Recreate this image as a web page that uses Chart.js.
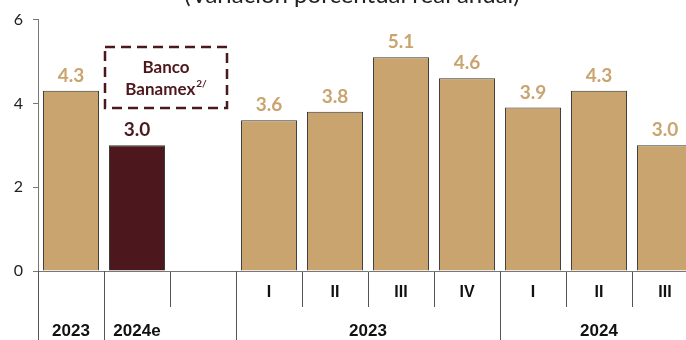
<!DOCTYPE html>
<html>
<head>
<meta charset="utf-8">
<script src="https://cdn.jsdelivr.net/npm/chart.js@4/dist/chart.umd.min.js"></script>
<style>
  html, body { margin: 0; padding: 0; background: #fff; overflow: hidden; }
  #wrap { position: relative; width: 700px; height: 340px; }
</style>
</head>
<body>
<div id="wrap"><canvas id="pib-chart"></canvas></div>
<script>
var categories = ['2023', '2024e', '', 'I', 'II', 'III', 'IV', 'I', 'II', 'III'];
var values = [4.3, 3.0, null, 3.6, 3.8, 5.1, 4.6, 3.9, 4.3, 3.0];
var yearGroups = [
  { label: '2023', from: 0, to: 0 },
  { label: '2024e', from: 1, to: 1 },
  { label: '2023', from: 3, to: 6 },
  { label: '2024', from: 7, to: 9 }
];
var yTicks = [0, 2, 4, 6];
var title = '(Variación porcentual real anual)';

var tan = '#c9a46f';
var maroon = '#4d181d';
var barColors = values.map(function (v, i) { return i === 1 ? maroon : tan; });
var labelColors = values.map(function (v, i) { return i === 1 ? maroon : tan; });

var extras = {
  id: 'extras',
  afterDatasetsDraw: function (chart) {
    var ctx = chart.ctx;
    var x = chart.scales.x;
    var area = chart.chartArea;
    var meta = chart.getDatasetMeta(0);
    var half = (x.getPixelForValue(1) - x.getPixelForValue(0)) / 2;

    ctx.save();
    // value labels
    ctx.font = 'bold 19px Lato, "Noto Sans", sans-serif';
    ctx.textAlign = 'center';
    ctx.textBaseline = 'alphabetic';
    meta.data.forEach(function (bar, i) {
      if (values[i] === null) return;
      ctx.fillStyle = labelColors[i];
      ctx.fillText(values[i].toFixed(1), bar.x, bar.y - 9);
    });

    // Banamex dashed box
    var bx = x.getPixelForValue(1) - 32;
    ctx.strokeStyle = maroon;
    ctx.lineWidth = 2.5;
    ctx.setLineDash([10, 6]);
    ctx.strokeRect(bx, 47, 122, 61);
    ctx.setLineDash([]);
    ctx.fillStyle = maroon;
    ctx.font = 'bold 17px Lato, "Noto Sans", sans-serif';
    ctx.textAlign = 'center';
    ctx.fillText('Banco', bx + 61, 73);
    var w = ctx.measureText('Banamex').width;
    ctx.font = 'bold 10px Lato, "Noto Sans", sans-serif';
    var ws = ctx.measureText('2/').width;
    var start = bx + 61 - (w + ws + 1) / 2;
    ctx.textAlign = 'left';
    ctx.fillText('2/', start + w + 1, 87);
    ctx.font = 'bold 17px Lato, "Noto Sans", sans-serif';
    ctx.fillText('Banamex', start, 95);

    // long group separators and year labels
    ctx.strokeStyle = '#555';
    ctx.lineWidth = 1;
    ctx.font = 'bold 17px "Liberation Sans", Arial, sans-serif';
    ctx.fillStyle = '#111';
    ctx.textAlign = 'center';
    ctx.textBaseline = 'middle';
    yearGroups.forEach(function (g) {
      var l = x.getPixelForValue(g.from) - half;
      var r = x.getPixelForValue(g.to) + half;
      ctx.beginPath();
      ctx.moveTo(Math.round(l) + 0.5, area.bottom);
      ctx.lineTo(Math.round(l) + 0.5, chart.height);
      ctx.stroke();
      ctx.fillText(g.label, (l + r) / 2, 331);
    });

    // title (cut by the top edge)
    ctx.font = '24px Lato, "Noto Sans", sans-serif';
    ctx.fillStyle = '#222';
    ctx.textBaseline = 'alphabetic';
    ctx.fillText(title, 352, 3);
    ctx.restore();
  }
};

var context = document.getElementById('pib-chart').getContext('2d');
var chart = new Chart(context, {
  type: 'bar',
  data: {
    labels: categories,
    datasets: [
      {
        data: values,
        backgroundColor: barColors,
        borderColor: '#333',
        borderWidth: 1,
        categoryPercentage: 0.85,
        barPercentage: 1.0
      }
    ]
  },
  options: {
    responsive: true,
    maintainAspectRatio: false,
    animation: false,
    layout: { padding: { top: 18, right: 2, left: 0, bottom: 0 } },
    plugins: {
      legend: { display: false },
      tooltip: { enabled: false }
    },
    scales: {
      x: {
        afterFit: function (scale) { scale.height = 69; },
        border: { display: true, color: '#777', width: 1 },
        grid: {
          display: true,
          offset: true,
          drawOnChartArea: false,
          drawTicks: true,
          tickLength: 36,
          color: '#555'
        },
        ticks: {
          padding: -24,
          maxRotation: 0,
          autoSkip: false,
          color: '#111',
          font: { family: '"Liberation Sans", Arial, sans-serif', size: 16, weight: 'bold' },
          callback: function (v, i) { return i < 3 ? '' : categories[i]; }
        }
      },
      y: {
        min: 0,
        max: 6,
        afterFit: function (scale) { scale.width = 38; },
        afterBuildTicks: function (scale) {
          scale.ticks = yTicks.map(function (v) { return { value: v }; });
        },
        border: { display: true, color: '#777', width: 1 },
        grid: {
          display: true,
          drawOnChartArea: false,
          drawTicks: true,
          tickLength: 5,
          color: '#777'
        },
        ticks: {
          padding: 10,
          color: '#222',
          font: { family: 'Lato, "Noto Sans", sans-serif', size: 16 }
        }
      }
    }
  },
  plugins: [extras]
});
</script>
</body>
</html>
